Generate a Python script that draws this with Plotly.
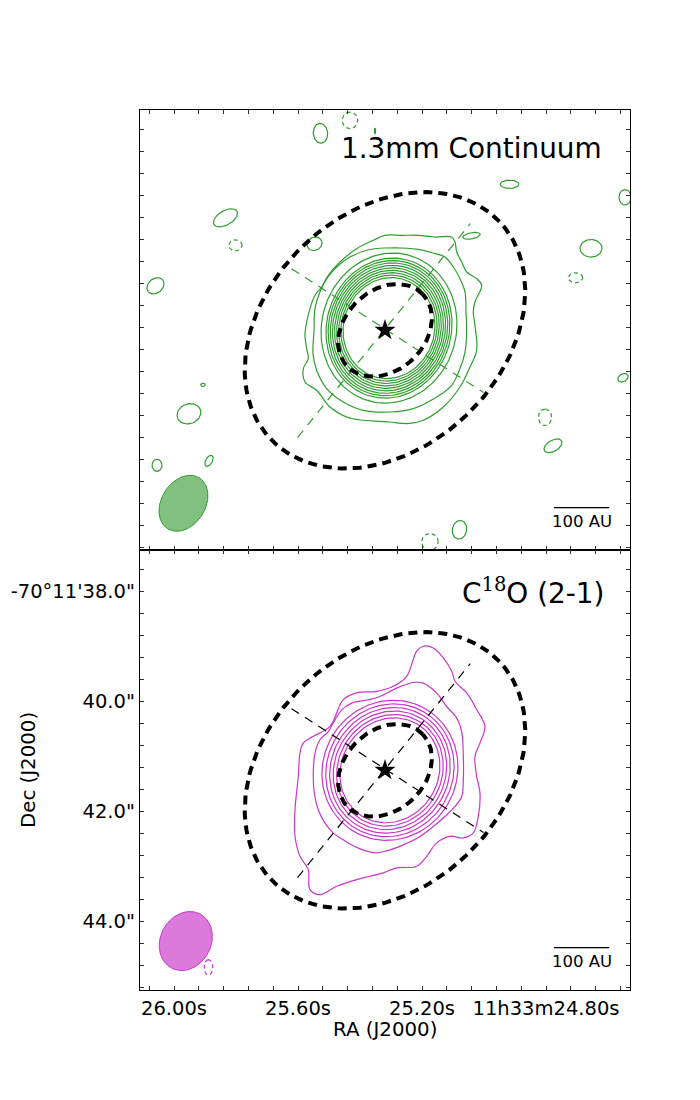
import numpy as np
import plotly.graph_objects as go

# ---------------- data (offsets in arcsec from the star: east +, north +) ----------------
STAR_RA = 25.3194      # seconds of 11h33m
STAR_DEC = 41.26       # arcsec of -70d11'
RA_S_PER_ARCSEC = 55 / 310

ra_ticks = [26.00, 25.60, 25.20, 24.80]
ra_labels = ["26.00s", "25.60s", "25.20s", "11h33m24.80s"]
dec_ticks = [38.0, 40.0, 42.0, 44.0]
dec_labels = ["-70°11'38.0\"", "40.0\"", "42.0\"", "44.0\""]

# model ellipses (dashed black): semi-axes and tilt
disk_a = [0.95, 2.87]
disk_b = [0.73, 2.14]
disk_tilt = [43.5, 43.5]

# axis lines of the disk (east, north endpoints)
axis_e0 = [1.59, 1.70]
axis_n0 = [-1.95, 1.12]
axis_e1 = [-1.55, -1.79]
axis_n1 = [1.94, -1.13]

# 1.3 mm continuum: smooth inner contours (ellipses)
cont_a = [0.924, 0.969, 1.014, 1.058, 1.103, 1.148, 1.193, 1.237, 1.282, 1.373]
cont_b = [0.829, 0.867, 0.905, 0.943, 0.981, 1.02, 1.058, 1.096, 1.135, 1.225]
cont_ce, cont_cn, cont_tilt = -0.073, 0.04, 75

# 1.3 mm continuum: outer contours (vertices)
g1_e = [0, -0.304, -0.605, -0.909, -1.213, -1.273, -1.304, -1.395, -1.485, -1.667, -1.758,
        -1.636, -1.605, -1.636, -1.667, -1.545, -1.364, -1.06, -0.696, -0.395, -0.091,
        0.395, 0.696, 1.0, 1.242, 1.455, 1.485, 1.395, 1.424, 1.455, 1.424, 1.364, 1.273,
        1.151, 1.031, 0.818, 0.515, 0.213]
g1_n = [1.727, 1.727, 1.727, 1.696, 1.696, 1.605, 1.424, 1.242, 1.06, 0.94, 0.818,
        0.515, 0.333, 0.091, -0.364, -0.667, -1.031, -1.395, -1.636, -1.696, -1.667,
        -1.636, -1.576, -1.395, -1.091, -0.94, -0.696, -0.515, -0.333, -0.091, 0.151,
        0.395, 0.636, 0.787, 1.0, 1.242, 1.485, 1.636]
g2_e = [0, -0.605, -0.909, -1.091, -1.242, -1.364, -1.455, -1.473, -1.485, -1.455, -1.364,
        -1.213, -0.94, -0.515, -0.091, 0.395, 0.758, 1.06, 1.242, 1.309, 1.291, 1.273,
        1.182, 1.06, 0.878, 0.636, 0.333]
g2_n = [1.496, 1.473, 1.395, 1.333, 1.151, 0.94, 0.696, 0.333, -0.031, -0.395, -0.696,
        -1.0, -1.213, -1.424, -1.485, -1.455, -1.304, -1.06, -0.727, -0.424, -0.018, 0.395,
        0.696, 0.94, 1.151, 1.333, 1.455]

# continuum noise islands (east, north, a, b, tilt, negative?)
isl_e = [1.173, 0.636, 0.182, 2.9, 2.718, 4.173, 1.282, -2.264, -4.364, -1.573, -3.745,
         -3.464, 3.309, 3.564, 4.145, 3.2, -4.327, -2.909, -3.055, -1.355, -0.818]
isl_n = [3.582, 3.818, 3.627, 2.045, 1.545, 0.809, 1.573, 2.655, 2.418, 1.718, 1.491,
         0.955, -0.991, -1.518, -2.455, -2.373, -0.864, -1.582, -2.1, -3.627, -3.845]
isl_a = [0.18, 0.15, 0.05, 0.24, 0.12, 0.17, 0.14, 0.17, 0.14, 0.16, 0.2,
         0.13, 0.04, 0.22, 0.11, 0.11, 0.1, 0.15, 0.18, 0.17, 0.15]
isl_b = [0.13, 0.14, 0.012, 0.13, 0.10, 0.13, 0.12, 0.075, 0.11, 0.055, 0.16,
         0.09, 0.03, 0.18, 0.09, 0.06, 0.07, 0.12, 0.10, 0.13, 0.15]
isl_tilt = [95, 90, 90, 30, 0, 40, 20, 0, 90, 10, 0, 0, 0, 20, 90, 60, 30, 90, 30, 80, 0]
isl_neg = [0, 1, 0, 0, 1, 0, 0, 0, 0, 0, 0, 1, 0, 0, 0, 0, 0, 1, 0, 0, 1]

# C18O (2-1): smooth inner contours (ellipses)
line_a = [0.976, 1.036, 1.1, 1.164, 1.227, 1.291]
line_b = [0.885, 0.945, 1.009, 1.073, 1.145, 1.218]
line_ce, line_cn, line_tilt = -0.09, 0.0, 60

# C18O (2-1): outer contours (vertices)
m1_e = [1.545, 1.485, 1.304, 1.0, 0.758, 0.515, 0.151, -0.151, -0.395, -0.576, -0.696,
        -0.878, -1.06, -1.213, -1.273, -1.485, -1.667, -1.818, -1.727, -1.636, -1.667,
        -1.727, -1.696, -1.605, -1.424, -1.182, -0.94, -0.758, -0.576, -0.213, 0.031,
        0.273, 0.515, 0.878, 1.182, 1.364, 1.395, 1.545, 1.636, 1.636, 1.576]
m1_n = [0.316, 0.498, 0.618, 0.8, 1.285, 1.407, 1.436, 1.527, 1.709, 2.164, 2.255,
        2.225, 2.044, 1.8, 1.618, 1.407, 1.104, 0.8, 0.498, 0.255, -0.109,
        -0.411, -0.836, -1.138, -1.229, -1.2, -1.32, -1.564, -1.745, -1.775, -1.865,
        -1.927, -1.987, -2.109, -2.26, -2.169, -1.805, -1.564, -1.2, -0.715, -0.109]
m2_e = [0.304, 0.091, -0.213, -0.515, -0.696, -0.94, -1.122, -1.304, -1.395, -1.424, -1.424,
        -1.395, -1.273, -1.091, -0.878, -0.636, -0.333, -0.031, 0.182, 0.485, 0.758, 0.94,
        1.091, 1.213, 1.285, 1.304, 1.273, 1.182, 1.031, 0.909, 0.787, 0.605]
m2_n = [1.282, 1.342, 1.495, 1.596, 1.585, 1.404, 1.16, 0.949, 0.705, 0.251, -0.173,
        -0.476, -0.658, -0.84, -1.022, -1.204, -1.355, -1.464, -1.5, -1.415, -1.264, -1.142,
        -0.96, -0.718, -0.415, -0.051, 0.313, 0.555, 0.705, 0.918, 1.1, 1.222]

# C18O noise island
lisl_e, lisl_n, lisl_a, lisl_b, lisl_tilt, lisl_neg = [3.209], [-3.582], [0.14], [0.08], [90], [1]

# beams (east, north, a, b, tilt)
beam_cont = (3.664, -3.145, 0.545, 0.40, 58)
beam_line = (3.622, -3.104, 0.556, 0.46, 62)

# ---------------- helpers ----------------
def to_ra(east):
    return STAR_RA + np.asarray(east) * RA_S_PER_ARCSEC

def to_dec(north):
    return STAR_DEC - np.asarray(north)

def ellipse(ce, cn, a, b, tilt, n=140):
    t = np.linspace(0, 2 * np.pi, n)
    th = np.radians(tilt)
    xr, yr = a * np.cos(t), b * np.sin(t)
    right = -ce + xr * np.cos(th) - yr * np.sin(th)
    up = cn + xr * np.sin(th) + yr * np.cos(th)
    return to_ra(-right), to_dec(up)

GREEN = "#2f9e2f"
MAGENTA = "#c936c9"
fig = go.Figure()

def add(xs, ys, panel, **kw):
    xa, ya = ("x", "y") if panel == 0 else ("x2", "y2")
    fig.add_trace(go.Scatter(x=xs, y=ys, xaxis=xa, yaxis=ya, mode="lines",
                             hoverinfo="skip", showlegend=False, **kw))

def closed(e, n):
    e = list(e) + [e[0]]
    n = list(n) + [n[0]]
    return to_ra(e), to_dec(n)

for panel, col in ((0, GREEN), (1, MAGENTA)):
    if panel == 0:
        a_l, b_l, ce, cn, tl = cont_a, cont_b, cont_ce, cont_cn, cont_tilt
        outer = [(g1_e, g1_n), (g2_e, g2_n)]
        islands = (isl_e, isl_n, isl_a, isl_b, isl_tilt, isl_neg)
        beam = beam_cont
        beam_fill = "#80c080"
        axcol = GREEN
    else:
        a_l, b_l, ce, cn, tl = line_a, line_b, line_ce, line_cn, line_tilt
        outer = [(m1_e, m1_n), (m2_e, m2_n)]
        islands = (lisl_e, lisl_n, lisl_a, lisl_b, lisl_tilt, lisl_neg)
        beam = beam_line
        beam_fill = "#dc7adc"
        axcol = "black"
    # beam
    bx, by = ellipse(beam[0], beam[1], beam[2], beam[3], beam[4])
    add(bx, by, panel, fill="toself", fillcolor=beam_fill, line=dict(color=col, width=1))
    # smooth contours
    for a, b in zip(a_l, b_l):
        x, y = ellipse(ce, cn, a, b, tl)
        add(x, y, panel, line=dict(color=col, width=1.2))
    # outer irregular contours
    for e, n in outer:
        x, y = closed(e, n)
        add(x, y, panel, line=dict(color=col, width=1.2, shape="spline", smoothing=1.0))
    # noise islands
    for e, n, a, b, t, neg in zip(*islands):
        x, y = ellipse(e, n, a, b, t, n=60)
        add(x, y, panel, line=dict(color=col, width=1.2, dash="4px,3px" if neg else "solid"))
    # disk axes
    for e0, n0, e1, n1 in zip(axis_e0, axis_n0, axis_e1, axis_n1):
        add(to_ra([e0, e1]), to_dec([n0, n1]), panel,
            line=dict(color=axcol, width=1.2, dash="9px,7px"))
    # model ellipses
    for a, b, t in zip(disk_a, disk_b, disk_tilt):
        x, y = ellipse(0, 0, a, b, t, n=240)
        add(x, y, panel, line=dict(color="black", width=4, dash="9px,6px"))
    # star
    fig.add_trace(go.Scatter(x=[STAR_RA], y=[STAR_DEC], xaxis="x" if panel == 0 else "x2",
                             yaxis="y" if panel == 0 else "y2", mode="markers",
                             marker=dict(symbol="star", size=16, color="black"),
                             hoverinfo="skip", showlegend=False))
    # scale bar 100 AU
    yb = to_dec(-3.224)
    add([to_ra(-3.073), to_ra(-4.078)], [yb, yb], panel, line=dict(color="black", width=1.3))
    fig.add_annotation(x=to_ra(-3.573), y=to_dec(-3.482), text="100 AU", showarrow=False,
                       xref="x" if panel == 0 else "x2", yref="y" if panel == 0 else "y2",
                       font=dict(size=16.5, color="black"), xanchor="center", yanchor="middle")

# panel titles
fig.add_annotation(x=to_ra(-3.982), y=to_dec(3.309), xref="x", yref="y", text="1.3mm Continuum",
                   showarrow=False, xanchor="right", yanchor="middle",
                   font=dict(size=27.9, color="black"))
fig.add_annotation(x=to_ra(-4.02), y=to_dec(3.25), xref="x2", yref="y2",
                   text="C<sup><span style=\"font-family:'DejaVu Serif'\">18</span></sup>O (2-1)",
                   showarrow=False, xanchor="right", yanchor="middle",
                   font=dict(size=27.9, color="black"))

# page has an 8 px body margin: place the figure so the axes land where the reference has them
W, H, OFF = 700, 1100, 8
def px(xp):
    return (xp - OFF) / W
def py(yp):
    return 1 - (yp - OFF) / H

# axis titles
fig.add_annotation(x=px(28), y=py(770), xref="paper", yref="paper", text="Dec (J2000)",
                   textangle=-90, showarrow=False, xanchor="center", yanchor="middle",
                   font=dict(size=19.8, color="black"))
fig.add_annotation(x=px(385), y=py(1029), xref="paper", yref="paper", text="RA (J2000)",
                   showarrow=False, xanchor="center", yanchor="middle",
                   font=dict(size=19.8, color="black"))

XR = [26.1097, 26.1097 - 490 / 310]
YR = [37.2545 + 8, 37.2545]
common = dict(showline=True, linecolor="black", linewidth=1.3, mirror="allticks",
              ticks="inside", ticklen=4, tickcolor="#333", tickwidth=1,
              showgrid=False, zeroline=False,
              tickfont=dict(size=19.5, color="black"))
xcommon = dict(common, range=XR, tickmode="array", tickvals=ra_ticks, ticktext=ra_labels,
               minor=dict(tick0=26.0, dtick=0.08, ticks="inside", ticklen=4, tickcolor="#333",
                          showgrid=False))
ycommon = dict(common, range=YR, tickmode="array", tickvals=dec_ticks, ticktext=dec_labels,
               minor=dict(tick0=38.0, dtick=0.4, ticks="inside", ticklen=4, tickcolor="#333",
                          showgrid=False))

fig.update_layout(
    width=W, height=H, margin=dict(l=0, r=0, t=0, b=0),
    paper_bgcolor="white", plot_bgcolor="white",
    font=dict(family="DejaVu Sans", color="black"),
    xaxis=dict(xcommon, domain=[px(140), px(630)], anchor="y", showticklabels=False),
    yaxis=dict(ycommon, domain=[py(550), py(110)], anchor="x", showticklabels=False),
    xaxis2=dict(xcommon, domain=[px(140), px(630)], anchor="y2", showticklabels=True),
    yaxis2=dict(ycommon, domain=[py(990), py(550)], anchor="x2", showticklabels=True),
)

fig.write_html("out.html")
